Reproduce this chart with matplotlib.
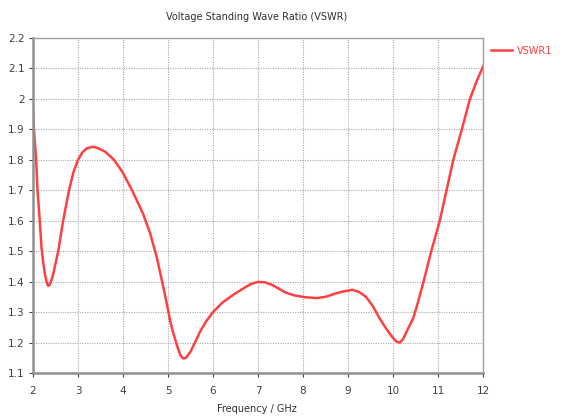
import matplotlib
matplotlib.use("Agg")
import matplotlib.pyplot as plt

freq = [2.0, 2.03, 2.07, 2.10, 2.15, 2.19, 2.23, 2.27, 2.31, 2.34, 2.37, 2.41, 2.45, 2.56, 2.67,
        2.8, 2.9, 3.0, 3.1, 3.2, 3.34, 3.45, 3.6, 3.8, 4.0, 4.2, 4.44, 4.6, 4.75, 4.87, 4.97,
        5.05, 5.12, 5.2, 5.27, 5.33, 5.4, 5.5, 5.6, 5.71, 5.85, 6.0, 6.2, 6.44, 6.7, 6.85,
        7.0, 7.15, 7.3, 7.45, 7.6, 7.8, 8.04, 8.3, 8.5, 8.7, 8.9, 9.1, 9.25, 9.4, 9.55, 9.7,
        9.85, 10.0, 10.08, 10.15, 10.22, 10.3, 10.45, 10.55, 10.67, 10.85, 11.04, 11.19,
        11.34, 11.53, 11.71, 11.85, 12.0]
vswr = [1.96, 1.88, 1.80, 1.70, 1.60, 1.51, 1.46, 1.42, 1.395, 1.386, 1.39, 1.405, 1.425,
        1.50, 1.60, 1.70, 1.76, 1.80, 1.825, 1.838, 1.843, 1.838, 1.827, 1.80, 1.757, 1.70,
        1.625, 1.56, 1.48, 1.40, 1.33, 1.27, 1.23, 1.19, 1.16, 1.148, 1.15, 1.17, 1.20, 1.235,
        1.27, 1.30, 1.33, 1.356, 1.38, 1.393, 1.399, 1.398, 1.39, 1.378, 1.365, 1.355, 1.349,
        1.346, 1.35, 1.36, 1.368, 1.373, 1.366, 1.35, 1.32, 1.28, 1.245, 1.215, 1.203, 1.20,
        1.21, 1.235, 1.28, 1.33, 1.395, 1.50, 1.60, 1.70, 1.80, 1.90, 2.00, 2.055, 2.106]

xticks = [2, 3, 4, 5, 6, 7, 8, 9, 10, 11, 12]
yticks = [1.1, 1.2, 1.3, 1.4, 1.5, 1.6, 1.7, 1.8, 1.9, 2.0, 2.1, 2.2]
ytick_labels = ["1.1", "1.2", "1.3", "1.4", "1.5", "1.6", "1.7", "1.8", "1.9", "2", "2.1", "2.2"]

fig = plt.figure(figsize=(5.63, 4.16), dpi=100)
ax = fig.add_axes([33/563, 1-373/416, 450/563, 335/416])

ax.plot(freq, vswr, color="#ff4040", lw=1.8, label="VSWR1")
ax.set_xlim(2, 12)
ax.set_ylim(1.1, 2.2)
ax.set_xticks(xticks)
ax.set_xticklabels([str(t) for t in xticks])
ax.set_yticks(yticks)
ax.set_yticklabels(ytick_labels)
ax.grid(True, color="#a8a8a8", linestyle=(0, (1, 1.2)), linewidth=0.8)
ax.tick_params(axis="both", labelsize=7.5, colors="#404040", length=3, width=0.8,
               direction="out", pad=3)
ax.tick_params(axis="x", pad=6)
for s in ["top", "right"]:
    ax.spines[s].set_color("#a0a0a0")
    ax.spines[s].set_linewidth(1.0)
for s in ["left", "bottom"]:
    ax.spines[s].set_color("#909090")
    ax.spines[s].set_linewidth(1.8)

fig.text(257/563, 1-17/416, "Voltage Standing Wave Ratio (VSWR)", ha="center", va="center",
         fontsize=7, color="#303030")
fig.text(257/563, 1-409/416, "Frequency / GHz", ha="center", va="center",
         fontsize=7, color="#303030")

leg = ax.legend(loc="upper left", bbox_to_anchor=(1.005, 0.995), frameon=False,
                fontsize=7, handlelength=2.2, handletextpad=0.5, borderaxespad=0.2)
for t in leg.get_texts():
    t.set_color("#ff4040")

fig.savefig("out.png", dpi=100)
